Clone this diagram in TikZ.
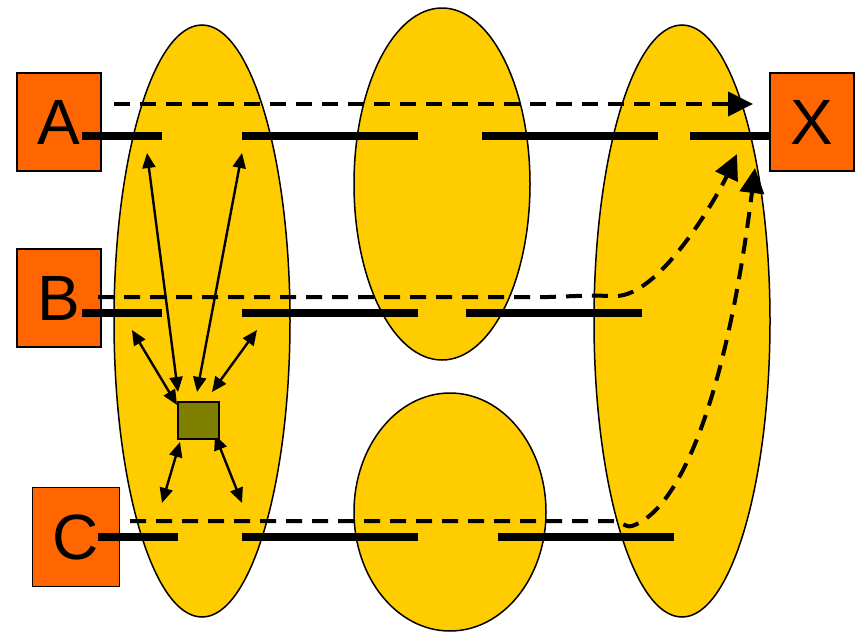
\documentclass[tikz,border=0pt]{standalone}
\usepackage{fontspec}
\setmainfont{Liberation Sans}
\usetikzlibrary{arrows.meta}
\definecolor{gold}{HTML}{FFCC00}
\definecolor{orng}{HTML}{FF6600}
\definecolor{olv}{HTML}{808000}
\begin{document}
\begin{tikzpicture}[x=1pt,y=-1pt,
  blob/.style={draw=black,line width=1.5pt,fill=gold},
  letterbox/.style={draw=black,line width=1.8pt,fill=orng,minimum width=84pt,minimum height=98pt,inner sep=0pt,font=\fontsize{64}{64}\selectfont},
  wire/.style={line width=8pt},
  flow/.style={line width=4pt,dash pattern=on 16pt off 10pt,-{Triangle[length=25pt,width=24pt]}},
  link/.style={line width=2.4pt,{Triangle[length=15pt,width=13pt]}-{Triangle[length=15pt,width=13pt]}},
  chip/.style={draw=black,line width=1.8pt,fill=olv,minimum width=41pt,minimum height=37pt,inner sep=0pt}]
\useasboundingbox (0,0) rectangle (860,632);
% regions
\fill[blob] (202,321) ellipse [x radius=88pt, y radius=296pt];
\fill[blob] (442,184) ellipse [x radius=88pt, y radius=176pt];
\fill[blob] (450,512) ellipse [x radius=96pt, y radius=119pt];
\fill[blob] (682,321) ellipse [x radius=88pt, y radius=296pt];
% boxes
\node[letterbox] (A) at (59,122) {A};
\node[letterbox] (B) at (59,298) {B};
\node[letterbox,minimum width=87pt,minimum height=99pt] (C) at (76,537) {C};
\node[letterbox] (X) at (812,122) {X};
% wires row A
\draw[wire] (82,136) -- (162,136);
\draw[wire] (242,136) -- (418,136);
\draw[wire] (482,136) -- (658,136);
\draw[wire] (690,136) -- (770,136);
% wires row B
\draw[wire] (82,313) -- (162,313);
\draw[wire] (242,313) -- (418,313);
\draw[wire] (466,313) -- (642,313);
% wires row C
\draw[wire] (98,537) -- (178,537);
\draw[wire] (242,537) -- (418,537);
\draw[wire] (498,537) -- (674,537);
% dashed flows
\coordinate (a0) at (114,104);
\coordinate (a1) at (753,104);
\draw[flow] (a0) -- (a1);
\coordinate (b0) at (98,297);
\coordinate (b1) at (737,154);
\draw[flow] (b0) -- (548,297) -- (590,295.5) -- (615,296) .. controls (660,297) and (718,195) .. (b1);
\coordinate (c0) at (130,521);
\coordinate (c1) at (755,168);
\draw[flow] (c0) -- (612,521) .. controls (622,521) and (625,528) .. (632,526) .. controls (675,512) and (724,415) .. (c1);
% links around the chip
\coordinate (l1a) at (147,153); \coordinate (l1b) at (178,392);
\coordinate (l2a) at (242,153); \coordinate (l2b) at (197,392);
\coordinate (l3a) at (132,330); \coordinate (l3b) at (177,405);
\coordinate (l4a) at (257,330); \coordinate (l4b) at (212,392);
\coordinate (l5a) at (162,503); \coordinate (l5b) at (180,442);
\coordinate (l6a) at (242,503); \coordinate (l6b) at (215,435);
\draw[link] (l1a) -- (l1b);
\draw[link] (l2a) -- (l2b);
\draw[link] (l3a) -- (l3b);
\draw[link] (l4a) -- (l4b);
\draw[link] (l5a) -- (l5b);
\draw[link] (l6a) -- (l6b);
\node[chip] (S) at (198.5,420.5) {};
\end{tikzpicture}
\end{document}
